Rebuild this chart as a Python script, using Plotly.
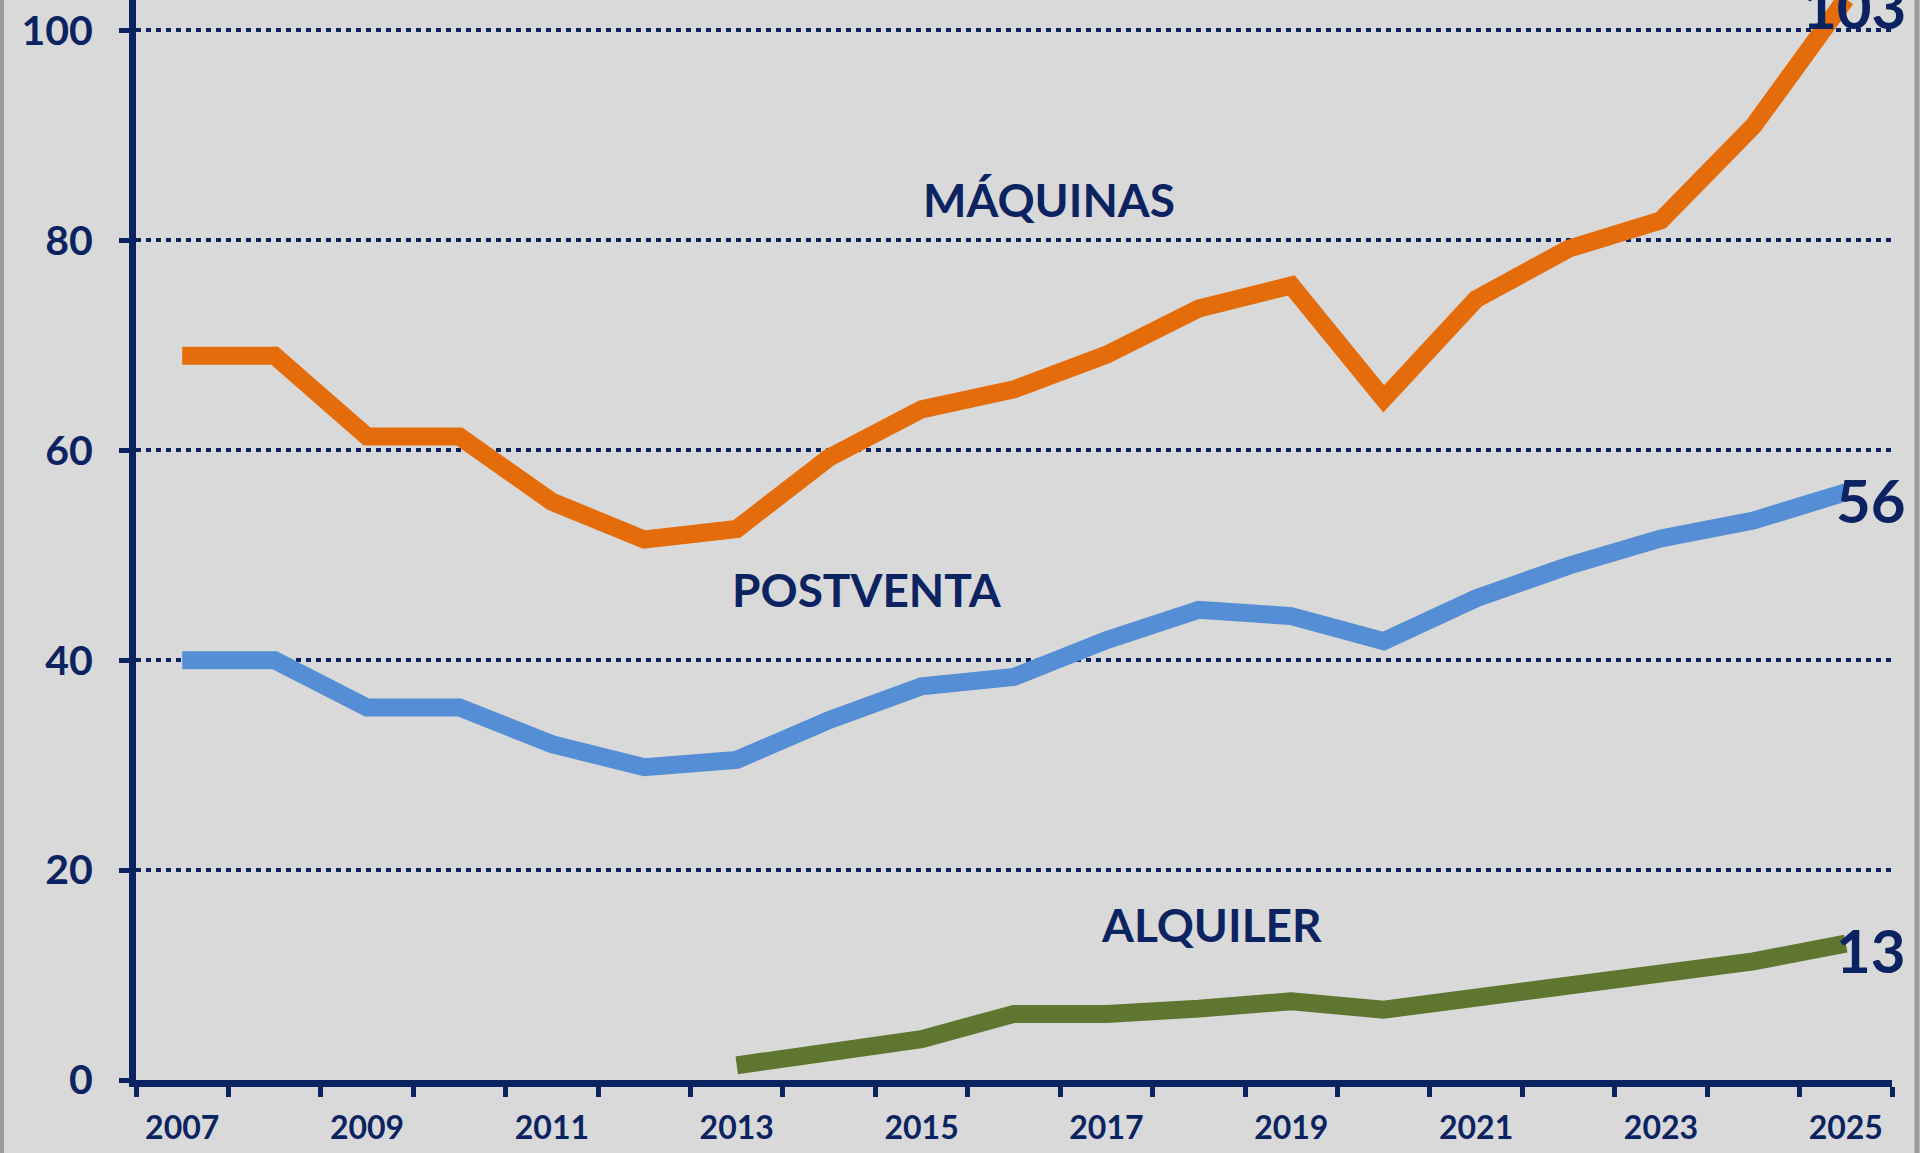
import plotly.graph_objects as go

years = [str(y) for y in range(2007, 2026)]
maquinas = [69, 69, 61.3, 61.3, 55.1, 51.5, 52.5, 59.3, 63.9, 65.8, 69.1, 73.5, 75.7, 64.9, 74.4, 79.2, 81.9, 90.9, 103]
postventa = [40, 40, 35.5, 35.5, 32, 29.8, 30.5, 34.3, 37.5, 38.4, 41.9, 44.8, 44.2, 41.8, 45.9, 49, 51.6, 53.3, 56]
alquiler_years = [str(y) for y in range(2013, 2026)]
alquiler = [1.4, 2.5, 3.9, 6.3, 6.3, 6.8, 7.5, 6.7, 7.8, 8.9, 10.2, 11.3, 13]
tick_labels = [y if int(y) % 2 == 1 else "" for y in years]
y_ticks = [0, 20, 40, 60, 80, 100]

NAVY = "#0B2461"
ORANGE = "#E46C0A"
BLUE = "#558ED5"
GREEN = "#5E7630"
FONT = "Lato"
L, R = 136, 28
PW = 1920 - L - R

fig = go.Figure()
fig.add_trace(go.Scatter(x=years, y=maquinas, mode="lines",
                         line=dict(color=ORANGE, width=18), name="MÁQUINAS"))
fig.add_trace(go.Scatter(x=years, y=postventa, mode="lines",
                         line=dict(color=BLUE, width=18), name="POSTVENTA"))
fig.add_trace(go.Scatter(x=alquiler_years, y=alquiler, mode="lines",
                         line=dict(color=GREEN, width=18), name="ALQUILER"))

# series names
for x, y, txt in [(9.38, 83.9, "MÁQUINAS"), (7.41, 46.7, "POSTVENTA"), (11.14, 14.8, "ALQUILER")]:
    fig.add_annotation(xref="x", yref="y", x=x, y=y, text=txt, showarrow=False,
                       xanchor="center", yanchor="middle",
                       font=dict(family=FONT, size=46, color=NAVY, weight="bold"))

# last values
right_x = (1908 - L) / PW
for y, val in [(102.3, maquinas[-1]), (55.3, postventa[-1]), (12.4, alquiler[-1])]:
    fig.add_annotation(xref="paper", yref="y", x=right_x, y=y, text=f"{val:g}",
                       showarrow=False, xanchor="right", yanchor="middle",
                       font=dict(family=FONT, size=60, color=NAVY, weight="bold"))

# grey frame edges
for px, w in [(2, 4), (1917, 5)]:
    xp = (px - L) / PW
    fig.add_shape(type="line", xref="paper", yref="paper",
                  x0=xp, x1=xp, y0=-0.1, y1=1.1,
                  line=dict(color="#9A9A9A", width=w))

fig.update_layout(
    width=1920, height=1153,
    margin=dict(l=L, r=R, t=0, b=73),
    paper_bgcolor="#D9D9D9", plot_bgcolor="#D9D9D9",
    showlegend=False,
    font=dict(family=FONT, color=NAVY),
)
fig.update_xaxes(
    type="category", range=[-0.5, 18.5],
    tickmode="array", tickvals=years, ticktext=tick_labels,
    tickson="boundaries", ticks="outside", ticklen=10, tickwidth=5, tickcolor=NAVY,
    showline=True, linewidth=7, linecolor=NAVY,
    showgrid=False, zeroline=False,
    tickfont=dict(family=FONT, size=32, color=NAVY, weight="bold"),
    ticklabelstandoff=14,
)
fig.update_yaxes(
    range=[0, 102.9], tickvals=y_ticks,
    ticks="outside", ticklen=10, tickwidth=5, tickcolor=NAVY,
    showline=True, linewidth=7, linecolor=NAVY,
    showgrid=True, gridcolor=NAVY, gridwidth=4, griddash="5px,5px",
    zeroline=False,
    tickfont=dict(family=FONT, size=41, color=NAVY, weight="bold"),
    ticklabelstandoff=18,
)

fig.write_html("out.html", config={"displayModeBar": False},
               post_script="document.body.style.margin='0';document.body.style.overflow='hidden';")
